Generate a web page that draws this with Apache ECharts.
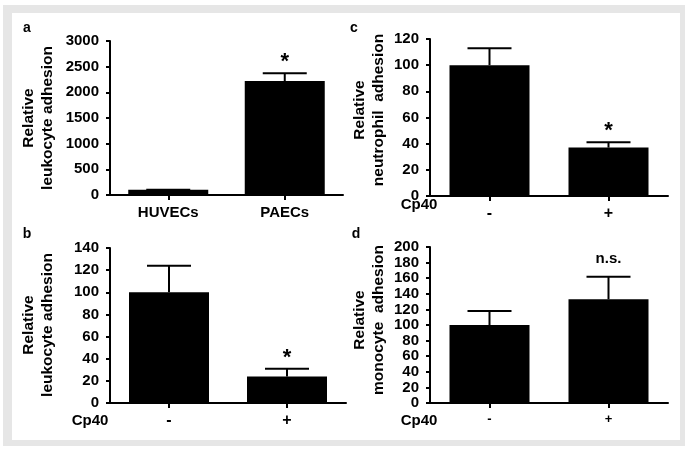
<!DOCTYPE html>
<html>
<head>
<meta charset="utf-8">
<script src="https://cdn.jsdelivr.net/npm/echarts@6/dist/echarts.min.js"></script>
<style>
  html, body { margin: 0; padding: 0; background: #fff; }
  #main { width: 692px; height: 453px; }
</style>
</head>
<body>
<div id="main"></div>
<script>
// panel a
var catsA = ['HUVECs', 'PAECs'];
var meanA = [100, 2220];
var errA = [100, 2370];
var sigA = ['', '*'];
// panels b, c, d share the Cp40 -/+ categories
var catsCp40 = ['-', '+'];
var meanB = [100, 24];
var errB = [124, 31];
var sigB = ['', '*'];
var meanC = [100, 37];
var errC = [113, 41];
var sigC = ['', '*'];
var meanD = [100, 133];
var errD = [118, 162];
var sigD = ['', 'n.s.'];

var FONT = '"Liberation Sans", Arial, sans-serif';

var chart = echarts.init(document.getElementById('main'));

function yAx(idx, max, step) {
  return {
    type: 'value', gridIndex: idx, min: 0, max: max, interval: step,
    axisLine: { show: true, lineStyle: { color: '#000', width: 2 } },
    axisTick: { show: true, length: 4, lineStyle: { color: '#000', width: 2 } },
    axisLabel: {
      color: '#000', fontFamily: FONT, fontWeight: 'bold', fontSize: 15, margin: 11,
      formatter: function (v) { return String(v); }
    },
    splitLine: { show: false }
  };
}

function xAx(idx, cats, size) {
  return {
    type: 'category', gridIndex: idx, data: cats,
    axisLine: { show: true, lineStyle: { color: '#000', width: 2 } },
    axisTick: { show: true, alignWithLabel: true, length: 5, lineStyle: { color: '#000', width: 2 } },
    axisLabel: { color: '#000', fontFamily: FONT, fontWeight: 'bold', fontSize: size, margin: 10 }
  };
}

function bars(idx, mean) {
  return {
    type: 'bar', xAxisIndex: idx, yAxisIndex: idx, data: mean,
    barWidth: 80, itemStyle: { color: '#000' }, z: 3
  };
}

function errs(idx, mean, err, sig) {
  var d = [];
  for (var i = 0; i < mean.length; i++) d.push([i, err[i], mean[i]]);
  return {
    type: 'custom', xAxisIndex: idx, yAxisIndex: idx, data: d, z: 4,
    encode: { x: 0, y: 1 },
    renderItem: function (params, api) {
      var p0 = api.coord([api.value(0), api.value(2)]);
      var p1 = api.coord([api.value(0), api.value(1)]);
      var s = sig[params.dataIndex];
      var kids = [
        { type: 'line', shape: { x1: p0[0], y1: p0[1], x2: p1[0], y2: p1[1] }, style: { stroke: '#000', lineWidth: 2 } },
        { type: 'line', shape: { x1: p1[0] - 22, y1: p1[1], x2: p1[0] + 22, y2: p1[1] }, style: { stroke: '#000', lineWidth: 2 } }
      ];
      if (s) {
        kids.push({
          type: 'text', x: p1[0], y: p1[1] - (s === '*' ? 0 : 10),
          style: {
            text: s, fill: '#000', align: 'center', verticalAlign: 'bottom',
            font: 'bold ' + (s === '*' ? 22 : 15) + 'px ' + FONT
          }
        });
      }
      return { type: 'group', children: kids };
    }
  };
}

function txt(x, y, t, size, rot) {
  return {
    type: 'text', x: x, y: y, rotation: rot || 0, z: 10,
    style: {
      text: t, fill: '#000', font: 'bold ' + size + 'px ' + FONT,
      align: 'center', verticalAlign: 'middle', lineHeight: 19
    }
  };
}

var option = {
  backgroundColor: '#fff',
  animation: false,
  grid: [
    { left: 110, top: 41, width: 233, height: 154 },
    { left: 110, top: 248, width: 236, height: 155 },
    { left: 430, top: 39, width: 238, height: 157 },
    { left: 430, top: 247, width: 238, height: 156 }
  ],
  xAxis: [xAx(0, catsA, 15), xAx(1, catsCp40, 16), xAx(2, catsCp40, 16), xAx(3, catsCp40, 13)],
  yAxis: [yAx(0, 3000, 500), yAx(1, 140, 20), yAx(2, 120, 20), yAx(3, 200, 20)],
  series: [
    bars(0, meanA), errs(0, meanA, errA, sigA),
    bars(1, meanB), errs(1, meanB, errB, sigB),
    bars(2, meanC), errs(2, meanC, errC, sigC),
    bars(3, meanD), errs(3, meanD, errD, sigD)
  ],
  graphic: [
    { type: 'rect', z: -10, shape: { x: 3, y: 5, width: 682, height: 441 }, style: { fill: '#e6e6e6' } },
    { type: 'rect', z: -9, shape: { x: 12, y: 13, width: 668, height: 427 }, style: { fill: '#fff' } },
    txt(27, 28, 'a', 14), txt(27, 234, 'b', 14), txt(354, 28, 'c', 14), txt(356, 234, 'd', 14),
    txt(38, 118, 'Relative\nleukocyte adhesion', 15.5, Math.PI / 2),
    txt(38, 325, 'Relative\nleukocyte adhesion', 15.5, Math.PI / 2),
    txt(369, 110, 'Relative\nneutrophil  adhesion', 15.5, Math.PI / 2),
    txt(369, 320, 'Relative\nmonocyte  adhesion', 15.5, Math.PI / 2),
    txt(90, 421, 'Cp40', 15), txt(419, 205, 'Cp40', 15), txt(419, 421, 'Cp40', 15)
  ]
};

chart.setOption(option);
</script>
</body>
</html>
